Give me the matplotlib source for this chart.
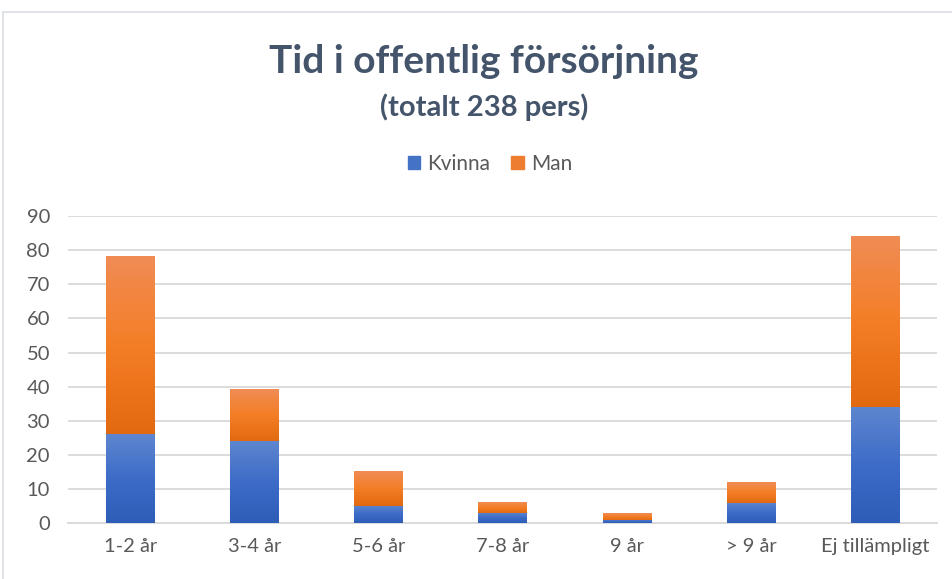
import numpy as np
import matplotlib
matplotlib.use('Agg')
from matplotlib import pyplot as plt
from matplotlib.colors import LinearSegmentedColormap
from matplotlib.patches import Rectangle

plt.rcParams["font.family"] = ["Lato", "DejaVu Sans"]

kategorier = ['1-2 år', '3-4 år', '5-6 år', '7-8 år', '9 år', '> 9 år', 'Ej tillämpligt']
kvinna = [26, 24, 5, 3, 1, 6, 34]
man = [52, 15, 10, 3, 2, 6, 50]

# gradientfärger (botten -> topp), som i Excel
bla = LinearSegmentedColormap.from_list('bla', ['#2E5DB8', '#3D6CC8', '#5E86CF'])
orange = LinearSegmentedColormap.from_list('orange', ['#E2690F', '#F47E26', '#F08C55'])

fig = plt.figure(figsize=(9.53, 5.79), dpi=100)
ax = fig.add_axes([0.0714, 0.0967, 0.912, 0.530])

x = np.arange(len(kategorier))
b1 = ax.bar(x, kvinna, width=0.39, color='#4472C4', label='Kvinna', zorder=3)
b2 = ax.bar(x, man, width=0.39, bottom=kvinna, color='#ED7D31', label='Man', zorder=3)

# fyll staplarna med gradient
grad = np.linspace(0, 1, 256).reshape(-1, 1)
for bars, cmap in [(b1, bla), (b2, orange)]:
    for p in bars:
        x0, y0 = p.get_x(), p.get_y()
        w, h = p.get_width(), p.get_height()
        p.set_facecolor('none')
        p.set_linewidth(0)
        ax.imshow(grad, cmap=cmap, origin='lower', aspect='auto',
                  extent=[x0, x0 + w, y0, y0 + h], zorder=3, interpolation='bilinear')

ax.set_xlim(-0.5, len(kategorier) - 0.5)
ax.set_ylim(0, 90)
ax.set_yticks(range(0, 91, 10))
ax.set_xticks(x)
ax.set_xticklabels(kategorier)
ax.tick_params(axis='both', length=0, labelsize=14.5, labelcolor='#595959')
ax.tick_params(axis='y', pad=13)
ax.tick_params(axis='x', pad=11)
ax.grid(axis='y', color='#D9D9D9', linewidth=1.3, zorder=0)
ax.set_axisbelow(True)
for s in ['top', 'right', 'left']:
    ax.spines[s].set_visible(False)
ax.spines['bottom'].set_color('#D9D9D9')
ax.spines['bottom'].set_linewidth(1.3)

fig.text(0.508, 0.893, 'Tid i offentlig försörjning', ha='center', va='center',
         fontsize=28, fontweight='bold', color='#44546A')
fig.text(0.508, 0.815, '(totalt 238 pers)', ha='center', va='center',
         fontsize=21, fontweight='bold', color='#44546A')

leg = fig.legend(handles=[Rectangle((0, 0), 1, 1, color='#4472C4'),
                          Rectangle((0, 0), 1, 1, color='#ED7D31')],
                 labels=['Kvinna', 'Man'], loc='center', bbox_to_anchor=(0.514, 0.717),
                 ncol=2, frameon=False, fontsize=15, handlelength=0.6, handleheight=0.6,
                 handletextpad=0.35, columnspacing=1.0)
for t in leg.get_texts():
    t.set_color('#595959')

# diagramram
fig.add_artist(Rectangle((0.003, -0.01), 1.0, 0.99, transform=fig.transFigure,
                         fill=False, edgecolor='#D9DEE4', linewidth=1.2))

plt.savefig('out.png')
